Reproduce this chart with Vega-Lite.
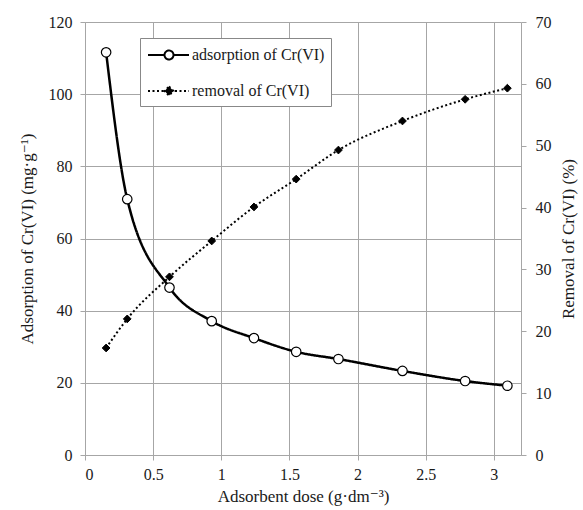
{
  "$schema": "https://vega.github.io/schema/vega-lite/v6.json",
  "autosize": {"type": "none"},
  "padding": {"left": 85, "top": 22, "right": 62, "bottom": 55},
  "width": 436,
  "height": 433,
  "background": "white",
  "data": {
    "values": [
      {"dose": 0.155, "adsorption": 111.6, "removal": 17.3},
      {"dose": 0.31, "adsorption": 70.9, "removal": 22.0},
      {"dose": 0.62, "adsorption": 46.4, "removal": 28.8},
      {"dose": 0.93, "adsorption": 37.1, "removal": 34.6},
      {"dose": 1.24, "adsorption": 32.4, "removal": 40.1},
      {"dose": 1.55, "adsorption": 28.6, "removal": 44.6},
      {"dose": 1.86, "adsorption": 26.6, "removal": 49.3},
      {"dose": 2.33, "adsorption": 23.3, "removal": 54.0},
      {"dose": 2.79, "adsorption": 20.5, "removal": 57.5},
      {"dose": 3.1, "adsorption": 19.2, "removal": 59.3}
    ]
  },
  "encoding": {
    "x": {
      "field": "dose",
      "type": "quantitative",
      "scale": {"domain": [0, 3.2], "nice": false, "zero": false},
      "axis": {
        "title": "Adsorbent dose (g·dm⁻³)",
        "values": [0, 0.5, 1, 1.5, 2, 2.5, 3],
        "format": "~g",
        "grid": true,
        "tickSize": 5,
        "labelPadding": 6,
        "titlePadding": 6
      }
    }
  },
  "layer": [
    {
      "encoding": {
        "y": {
          "field": "adsorption",
          "type": "quantitative",
          "scale": {"domain": [0, 120], "nice": false},
          "axis": {
            "orient": "left",
            "title": "Adsorption of Cr(VI) (mg·g⁻¹)",
            "values": [0, 20, 40, 60, 80, 100, 120],
            "grid": true,
            "tickSize": 5,
            "labelPadding": 8,
            "titlePadding": 12
          }
        }
      },
      "layer": [
        {
          "mark": {"type": "line", "interpolate": "monotone", "color": "black", "strokeWidth": 2.5},
          "encoding": {
            "strokeDash": {
              "datum": "adsorption of Cr(VI)",
              "type": "nominal",
              "scale": {"domain": ["adsorption of Cr(VI)", "removal of Cr(VI)"], "range": [[1, 0], [2, 2.5]]},
              "legend": {
                "title": null,
                "orient": "none",
                "legendX": 55,
                "legendY": 16,
                "padding": 6,
                "strokeColor": "#888888",
                "fillColor": "white",
                "rowPadding": 16,
                "symbolSize": 400,
                "symbolStrokeWidth": 2,
                "symbolStrokeColor": "black",
                "symbolOpacity": 1,
                "symbolType": {"expr": "datum.value === 'adsorption of Cr(VI)' ? 'M-0.9,0L0.75,0M1.65,0L3.2,0M0.75,0A0.45,0.45,0,1,1,1.65,0A0.45,0.45,0,1,1,0.75,0' : 'M-0.9,0L3.2,0M1.2,-0.45L1.65,0L1.2,0.45L0.75,0Z'"},
                "symbolFillColor": {"expr": "datum.value === 'adsorption of Cr(VI)' ? 'white' : 'black'"},
                "labelOffset": 24,
                "labelFont": "Liberation Serif, Times New Roman, DejaVu Serif, serif",
                "labelFontSize": 16,
                "labelColor": "#1a1a1a",
                "labelLimit": 300
              }
            }
          }
        },
        {
          "mark": {"type": "point", "shape": "circle", "filled": true, "fill": "white", "stroke": "black", "strokeWidth": 1.2, "size": 90, "opacity": 1}
        }
      ]
    },
    {
      "encoding": {
        "y": {
          "field": "removal",
          "type": "quantitative",
          "scale": {"domain": [0, 70], "nice": false},
          "axis": {
            "orient": "right",
            "title": "Removal of Cr(VI) (%)",
            "titleAngle": 270,
            "titleBaseline": "top",
            "values": [0, 10, 20, 30, 40, 50, 60, 70],
            "grid": false,
            "tickSize": 5,
            "labelPadding": 9,
            "titlePadding": 9
          }
        }
      },
      "layer": [
        {
          "mark": {"type": "line", "interpolate": "monotone", "color": "black", "strokeWidth": 2},
          "encoding": {
            "strokeDash": {
              "datum": "removal of Cr(VI)",
              "type": "nominal"
            }
          }
        },
        {
          "mark": {"type": "point", "shape": "diamond", "filled": true, "fill": "black", "stroke": "black", "strokeWidth": 1, "size": 60, "opacity": 1}
        }
      ]
    }
  ],
  "resolve": {"scale": {"y": "independent"}},
  "config": {
    "view": {"stroke": null},
    "axis": {
      "labelFont": "Liberation Serif, Times New Roman, DejaVu Serif, serif",
      "titleFont": "Liberation Serif, Times New Roman, DejaVu Serif, serif",
      "labelFontSize": 16,
      "titleFontSize": 17,
      "titleFontWeight": "normal",
      "labelColor": "#1a1a1a",
      "titleColor": "#1a1a1a",
      "gridColor": "#a6a6a6",
      "gridWidth": 1,
      "domainColor": "#a6a6a6",
      "tickColor": "#a6a6a6"
    }
  }
}
